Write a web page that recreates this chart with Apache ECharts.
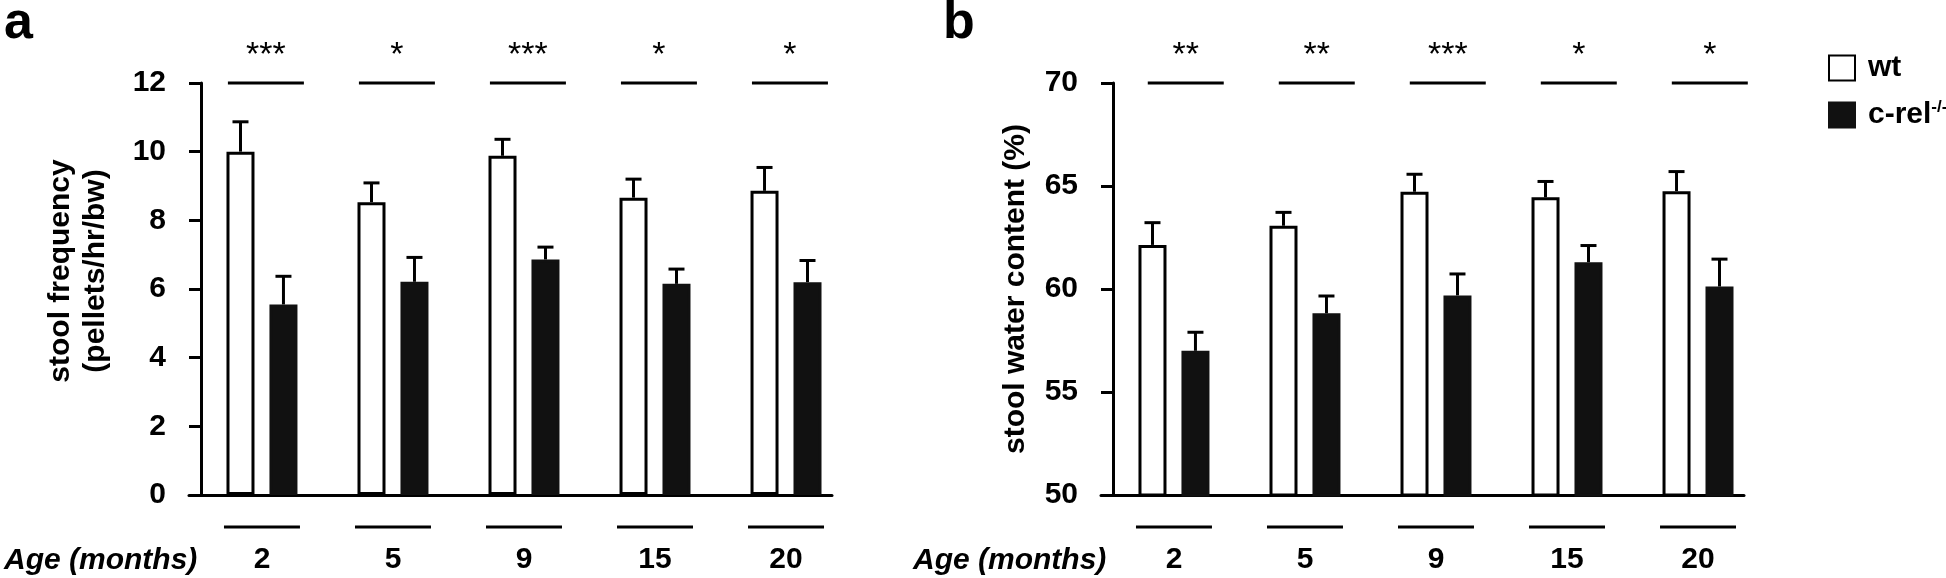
<!DOCTYPE html>
<html>
<head>
<meta charset="utf-8">
<script src="https://cdn.jsdelivr.net/npm/echarts@6/dist/echarts.min.js"></script>
<style>
html,body{margin:0;padding:0;background:#fff;}
#chart{width:1946px;height:578px;}
</style>
</head>
<body>
<div id="chart"></div>
<script>
// ---- data ----
const categories = ['2', '5', '9', '15', '20'];
const seriesNames = ['wt', 'c-rel'];
const freqWt = [10.0, 8.53, 9.88, 8.66, 8.86];
const freqWtErr = [0.87, 0.56, 0.48, 0.54, 0.68];
const freqKo = [5.55, 6.21, 6.86, 6.15, 6.20];
const freqKoErr = [0.82, 0.71, 0.36, 0.43, 0.63];
const waterWt = [62.14, 63.07, 64.72, 64.45, 64.75];
const waterWtErr = [1.08, 0.65, 0.85, 0.77, 0.95];
const waterKo = [57.00, 58.82, 59.69, 61.30, 60.12];
const waterKoErr = [0.90, 0.84, 1.04, 0.81, 1.33];
const freqSig = ['***', '*', '***', '*', '*'];
const waterSig = ['**', '**', '***', '*', '*'];
const freqAxis = { min: 0, max: 12, interval: 2 };
const waterAxis = { min: 50, max: 70, interval: 5 };
const freqTitle = 'stool frequency\n(pellets/hr/bw)';
const waterTitle = 'stool water content (%)';
const xTitle = 'Age (months)';

// ---- style ----
const FONT = '"Liberation Sans", Arial, Helvetica, sans-serif';
const OFF = 0.164;     // bar offset from group centre (axis units)
const HALF = 0.29;     // half length of annotation lines (axis units)
const LW = 3;
const BLACK = '#111';

function bars(vals, off, isWt, gi) {
  return {
    type: 'bar', name: isWt ? 'wt' : 'c-rel',
    xAxisIndex: gi, yAxisIndex: gi,
    barWidth: 28, barGap: '-100%', clip: true,
    data: vals.map((v, i) => [i + off, v]),
    itemStyle: isWt ? { color: '#fff', borderColor: '#000', borderWidth: LW }
                    : { color: BLACK, borderColor: BLACK, borderWidth: LW },
    z: 2, silent: true
  };
}

function errs(wt, wtE, ko, koE, gi) {
  const data = [];
  wt.forEach((v, i) => data.push([i - OFF, v, wtE[i]]));
  ko.forEach((v, i) => data.push([i + OFF, v, koE[i]]));
  return {
    type: 'custom', xAxisIndex: gi, yAxisIndex: gi, z: 3, silent: true,
    encode: { x: 0, y: 1 },
    data,
    renderItem(params, api) {
      const x = api.value(0), y = api.value(1), e = api.value(2);
      const b = api.coord([x, y]);
      const t = api.coord([x, y + e]);
      return { type: 'group', children: [
        { type: 'line', shape: { x1: b[0], y1: b[1], x2: t[0], y2: t[1] }, style: { stroke: '#000', lineWidth: LW } },
        { type: 'line', shape: { x1: t[0] - 8, y1: t[1], x2: t[0] + 8, y2: t[1] }, style: { stroke: '#000', lineWidth: LW } }
      ]};
    }
  };
}

function annots(sig, axis, shift, gi) {
  return {
    type: 'custom', xAxisIndex: gi, yAxisIndex: gi, z: 4, silent: true,
    encode: { x: 0, y: 1 },
    data: categories.map((c, i) => [i, axis.max, axis.min]),
    renderItem(params, api) {
      const k = api.value(0), top = api.value(1), base = api.value(2);
      const i = params.dataIndex;
      const s0 = api.coord([k + shift - HALF, top]);
      const s1 = api.coord([k + shift + HALF, top]);
      const b0 = api.coord([k - HALF, base]);
      const b1 = api.coord([k + HALF, base]);
      return { type: 'group', children: [
        { type: 'line', shape: { x1: s0[0], y1: s0[1], x2: s1[0], y2: s1[1] }, style: { stroke: '#000', lineWidth: LW } },
        { type: 'text', style: { text: sig[i], x: (s0[0] + s1[0]) / 2, y: s0[1] - 27, align: 'center', verticalAlign: 'middle',
            fontSize: 34, fontFamily: FONT, fontWeight: 'normal', fill: '#000' } },
        { type: 'line', shape: { x1: b0[0], y1: b0[1] + 32, x2: b1[0], y2: b1[1] + 32 }, style: { stroke: '#000', lineWidth: LW } },
        { type: 'text', style: { text: categories[i], x: (b0[0] + b1[0]) / 2, y: b0[1] + 65, align: 'center', verticalAlign: 'middle',
            fontSize: 30, fontFamily: FONT, fontWeight: 'bold', fill: '#000' } }
      ]};
    }
  };
}

function yAxis(axis, name, gap, pad) {
  return {
    type: 'value', min: axis.min, max: axis.max, interval: axis.interval,
    offset: -12,
    splitLine: { show: false },
    axisLine: { show: true, onZero: false, lineStyle: { color: '#000', width: LW } },
    axisTick: { show: true, length: 12, lineStyle: { color: '#000', width: LW } },
    axisLabel: { margin: 35, color: '#000', fontSize: 30, fontWeight: 'bold', fontFamily: FONT },
    name, nameLocation: 'middle', nameGap: gap, nameRotate: 90,
    nameTextStyle: { color: '#000', fontSize: 30, fontWeight: 'bold', fontFamily: FONT, lineHeight: 35, padding: pad }
  };
}

function xAxis(gi) {
  return {
    type: 'value', gridIndex: gi, min: -0.557, max: 4.351,
    splitLine: { show: false },
    axisLine: { show: true, onZero: false, lineStyle: { color: '#000', width: LW } },
    axisTick: { show: false }, axisLabel: { show: false }
  };
}

const titleStyle = { color: '#000', fontFamily: FONT };
const option = {
  animation: false,
  backgroundColor: '#fff',
  title: [
    { text: 'a', left: 4, top: -2, padding: 0, textStyle: Object.assign({ fontSize: 52, fontWeight: 'bold' }, titleStyle) },
    { text: 'b', left: 943, top: -2, padding: 0, textStyle: Object.assign({ fontSize: 52, fontWeight: 'bold' }, titleStyle) },
    { text: xTitle, left: 4, top: 546, padding: 0, textStyle: Object.assign({ fontSize: 30, fontWeight: 'bold', fontStyle: 'italic' }, titleStyle) },
    { text: xTitle, left: 913, top: 546, padding: 0, textStyle: Object.assign({ fontSize: 30, fontWeight: 'bold', fontStyle: 'italic' }, titleStyle) }
  ],
  legend: {
    orient: 'vertical', left: 1823, top: 48, itemWidth: 26, itemHeight: 25, itemGap: 16,
    icon: 'rect', selectedMode: false,
    data: seriesNames,
    formatter: n => n === 'c-rel' ? '{n|c-rel}{s|-/-}' : '{n|' + n + '}',
    textStyle: {
      rich: {
        n: { fontSize: 30, fontWeight: 'bold', fontFamily: FONT, color: '#000', padding: [0, 0, 0, 8], lineHeight: 32 },
        s: { fontSize: 17, fontWeight: 'bold', fontFamily: FONT, color: '#000', verticalAlign: 'top', lineHeight: 32 }
      }
    }
  },
  grid: [
    { left: 189, top: 83, width: 643, height: 412 },
    { left: 1101, top: 83, width: 643, height: 412 }
  ],
  xAxis: [xAxis(0), xAxis(1)],
  yAxis: [
    Object.assign(yAxis(freqAxis, freqTitle, 88, [0, 0, 0, 36]), { gridIndex: 0 }),
    Object.assign(yAxis(waterAxis, waterTitle, 80, [0, 0, 0, 0]), { gridIndex: 1 })
  ],
  series: [
    bars(freqWt, -OFF, true, 0),
    bars(freqKo, OFF, false, 0),
    errs(freqWt, freqWtErr, freqKo, freqKoErr, 0),
    annots(freqSig, freqAxis, 0.03, 0),
    bars(waterWt, -OFF, true, 1),
    bars(waterKo, OFF, false, 1),
    errs(waterWt, waterWtErr, waterKo, waterKoErr, 1),
    annots(waterSig, waterAxis, 0.09, 1)
  ]
};
const chart = echarts.init(document.getElementById('chart'), null, { renderer: 'canvas' });
chart.setOption(option);
</script>
</body>
</html>
